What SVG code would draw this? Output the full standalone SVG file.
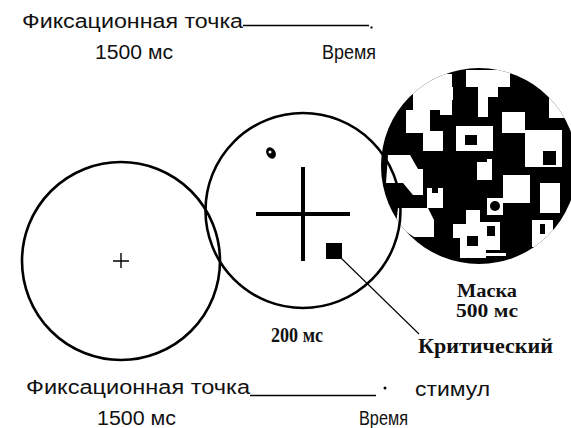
<svg xmlns="http://www.w3.org/2000/svg" width="571" height="428" viewBox="0 0 571 428">
<defs>
<style>
.sans{font-family:"Liberation Sans",Arial,sans-serif;font-size:20px;fill:#111}
.serif{font-family:"Liberation Serif","Times New Roman",serif;font-size:20px;font-weight:bold;fill:#111}
.serif.sm{font-size:18px}
.ring{fill:none;stroke:#000;stroke-width:2.6}
.bar{stroke:#000;stroke-width:4}
.wp{fill:#fff}
</style>
<clipPath id="maskclip"><circle cx="479" cy="166" r="98"/></clipPath>
</defs>
<rect width="571" height="428" fill="#fff"/>

<g id="top-labels">
<text class="sans" x="22" y="28" textLength="221" lengthAdjust="spacingAndGlyphs">Фиксационная точка</text>
<line x1="243" y1="25.5" x2="369" y2="25.5" stroke="#000" stroke-width="1.6"/>
<rect x="370.5" y="26.5" width="2" height="2" fill="#000"/>
<text class="sans" x="95" y="59" textLength="78" lengthAdjust="spacingAndGlyphs">1500 мс</text>
<text class="sans" x="322" y="59" textLength="54" lengthAdjust="spacingAndGlyphs">Время</text>
</g>

<g id="mask">
<g clip-path="url(#maskclip)">
<rect x="378" y="66" width="202" height="202" fill="#000"/>
<path class="wp" d="M466 70h44v17h-12v10h-10v-10h-22z"/>
<path class="wp" d="M478 87h10v30h-10z"/>
<path class="wp" d="M413 80h20v-6h19v41h-12v-5h-27z"/>
<path class="wp" d="M433 87h20v13h-20z"/>
<path class="wp" d="M382 112h10v10h-10z"/>
<path class="wp" d="M406 110h24v23h-24z"/>
<path class="wp" d="M423 131h20v20h-20z"/>
<path class="wp" d="M456 126h37v25h-37z M465 135v10h12v-10z" fill-rule="evenodd"/>
<path class="wp" d="M502 112h23v21h-23z"/>
<path class="wp" d="M549 98h22v20h-22z"/>
<path class="wp" d="M525 130h37v37h-37z M543 151v14h13v-14z" fill-rule="evenodd"/>
<path class="wp" d="M388 155h22l8 14h5v26h-10l-10-12h-17z"/>
<path class="wp" d="M477 162h10v-3h5v21h-15z"/>
<path class="wp" d="M427 188h16v20h-16z M432 188v5h6v-5z" fill-rule="evenodd"/>
<path class="wp" d="M503 175h27v28h-27z"/>
<path class="wp" d="M540 183h20v30h-20z"/>
<path class="wp" d="M487 198h16v17h-16z"/>
<circle cx="495" cy="206" r="5" fill="#000"/>
<path class="wp" d="M398 208h30l6 12v17h-20l-18-12z"/>
<path class="wp" d="M466 210h14v12h20v28h-14v8h-26v-20h-7v-14h13z"/>
<rect x="467" y="236" width="11" height="10" fill="#000"/>
<rect x="487" y="226" width="8" height="10" fill="#000"/>
<path class="wp" d="M532 220h21v27h-21z M540 224v10h5v-10z" fill-rule="evenodd"/>
<path class="wp" d="M474 253h32v3h-32z"/>
</g>
</g>

<g id="fixation">
<circle class="ring" cx="121" cy="261" r="99"/>
<path d="M113 261h16M121 253v15" stroke="#000" stroke-width="1.4" fill="none"/>
</g>

<g id="stimulus">
<circle class="ring" cx="303" cy="210.5" r="97.5"/>
<line class="bar" x1="303" y1="167" x2="303" y2="261"/>
<line class="bar" x1="256" y1="214" x2="350" y2="214"/>
<rect x="326" y="243" width="16" height="16" fill="#000"/>
<ellipse cx="271" cy="153" rx="4.5" ry="6" transform="rotate(-30 271 153)" fill="#000"/>
<circle cx="270" cy="152" r="1.5" fill="#fff"/>
</g>

<g id="connectors">
<line x1="341" y1="258" x2="419" y2="334" stroke="#000" stroke-width="1.1"/>
</g>

<g id="serif-labels">
<text class="serif" x="271" y="342" textLength="52" lengthAdjust="spacingAndGlyphs">200 мс</text>
<text class="serif sm" x="457" y="297" textLength="60" lengthAdjust="spacingAndGlyphs">Маска</text>
<text class="serif sm" x="456" y="317" textLength="62" lengthAdjust="spacingAndGlyphs">500 мс</text>
<text class="serif" x="418" y="353" textLength="135" lengthAdjust="spacingAndGlyphs">Критический</text>
</g>

<g id="bottom-labels">
<text class="sans" x="26" y="394" textLength="224" lengthAdjust="spacingAndGlyphs">Фиксационная точка</text>
<line x1="250" y1="395.5" x2="376" y2="395.5" stroke="#000" stroke-width="1.6"/>
<circle cx="385" cy="388" r="1.5" fill="#000"/>
<text class="sans" x="415" y="396" textLength="75" lengthAdjust="spacingAndGlyphs">стимул</text>
<text class="sans" x="97" y="425" textLength="79" lengthAdjust="spacingAndGlyphs">1500 мс</text>
<text class="sans" x="359" y="425" textLength="49" lengthAdjust="spacingAndGlyphs">Время</text>
</g>
</svg>
